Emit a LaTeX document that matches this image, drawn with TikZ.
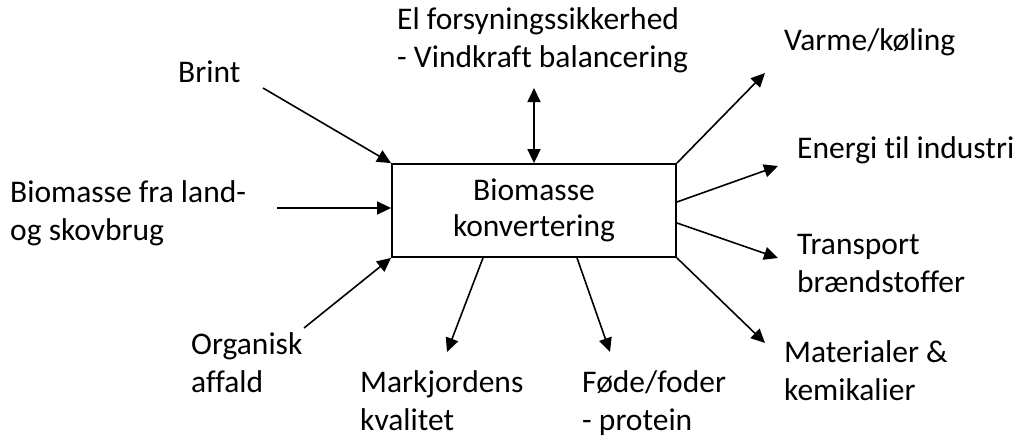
\documentclass[tikz,border=0pt]{standalone}
\usepackage{fontspec}
\setmainfont{Carlito}[Ligatures=NoCommon]
\usetikzlibrary{arrows.meta}

\begin{document}
\begin{tikzpicture}[x=1pt,y=-1pt,
                label node/.style={anchor=base west,inner sep=0pt,align=left,font=\fontsize{31.5}{37.5}\selectfont},
                main node/.style={draw,line width=1.8pt,minimum width=284pt,minimum height=93pt,inner sep=0pt,align=center,font=\fontsize{31.5}{36}\selectfont},
                flow/.style={line width=1.6pt,-{Triangle[length=14pt,width=13pt]}},
                ]
                \useasboundingbox (0,0) rectangle (1017,439);
                \node[main node] (konv) at (534,210.5) {Biomasse\\konvertering};

                % labels (anchored at the baseline of the last line)
                \node[label node] (el) at (397,67) {El forsyningssikkerhed\\- Vindkraft balancering};
                \node[label node] (brint) at (178,82) {Brint};
                \node[label node] (land) at (10,240) {Biomasse fra land-\\og skovbrug};
                \node[label node] (organisk) at (191,392) {Organisk\\affald};
                \node[label node] (mark) at (360,430) {Markjordens\\kvalitet};
                \node[label node] (foede) at (582,430) {Føde/foder\\- protein};
                \node[label node] (varme) at (784,50) {Varme/køling};
                \node[label node] (energi) at (797,158) {Energi til industri};
                \node[label node] (transport) at (797,292) {Transport\\brændstoffer};
                \node[label node] (materialer) at (784,400) {Materialer \&\\kemikalier};

                % free arrow ends
                \coordinate (el-end) at (534,88);
                \coordinate (brint-end) at (263,88);
                \coordinate (land-end) at (277,208);
                \coordinate (organisk-end) at (304,328);
                \coordinate (mark-end) at (447,352);
                \coordinate (foede-end) at (610,352);
                \coordinate (varme-end) at (765,73);
                \coordinate (energi-end) at (778,166);
                \coordinate (transport-end) at (778,258);
                \coordinate (materialer-end) at (765,343);

                % inputs
                \draw[flow] (brint-end) -- (konv.north west);
                \draw[flow] (land-end) -- (land-end -| konv.west);
                \draw[flow] (organisk-end) -- (konv.south west);
                \draw[flow,{Triangle[length=14pt,width=13pt]}-{Triangle[length=14pt,width=13pt]}] (el-end) -- (konv.north);

                % outputs
                \draw[flow] (konv.north east) -- (varme-end);
                \draw[flow] ([yshift=8.5pt]konv.east) -- (energi-end);
                \draw[flow] ([yshift=-12.5pt]konv.east) -- (transport-end);
                \draw[flow] (konv.south east) -- (materialer-end);
                \draw[flow] ([xshift=-51pt]konv.south) -- (mark-end);
                \draw[flow] ([xshift=43pt]konv.south) -- (foede-end);
            \end{tikzpicture}
\end{document}
